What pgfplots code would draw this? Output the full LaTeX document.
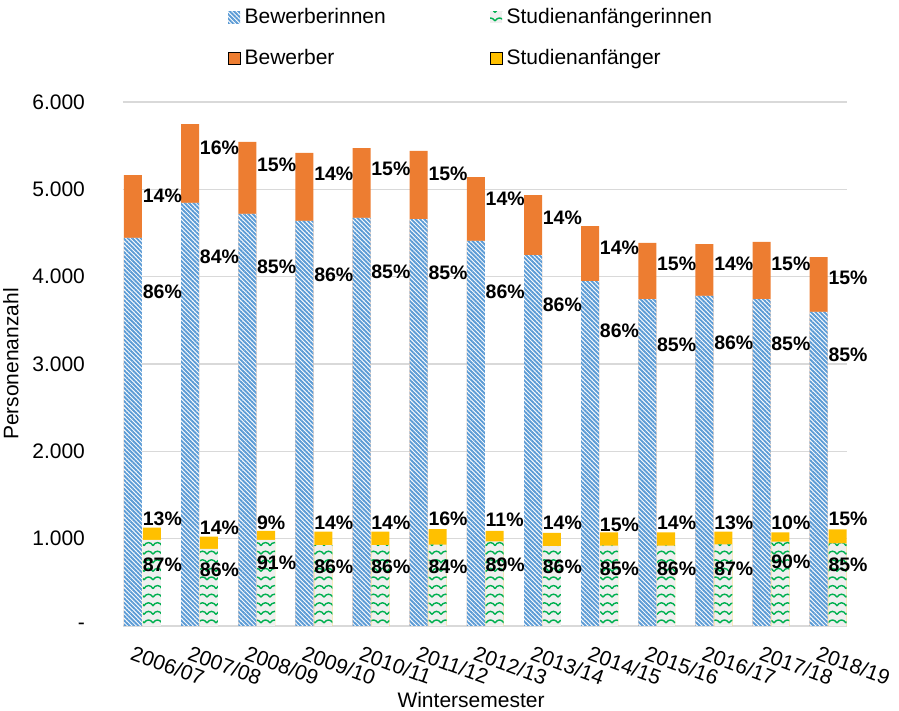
\documentclass[border=0pt]{standalone}
\usepackage{fontspec}
\setmainfont{Liberation Sans}
\usepackage{pgfplots}
\usepackage{pgfplotstable}
\pgfplotsset{compat=1.18}
\usetikzlibrary{patterns,patterns.meta}

\definecolor{cblue}{HTML}{5B9BD5}
\definecolor{corange}{HTML}{ED7D31}
\definecolor{cyellow}{HTML}{FFC000}
\definecolor{cgreen}{HTML}{00B050}
\definecolor{cbg}{HTML}{EFEFEF}
\definecolor{cgrid}{HTML}{D9D9D9}

% wave pattern for the female first-year students
\pgfdeclarepatternformonly{waves}{\pgfqpoint{-0.5pt}{-0.5pt}}{\pgfqpoint{5pt}{4.8pt}}{\pgfqpoint{4.5pt}{4.3pt}}{
  \pgfsetlinewidth{0.7pt}
  \pgfpathmoveto{\pgfqpoint{0pt}{1pt}}
  \pgfpathcurveto{\pgfqpoint{1.2pt}{3pt}}{\pgfqpoint{3.3pt}{3pt}}{\pgfqpoint{4.5pt}{1pt}}
  \pgfusepath{stroke}
}

\pgfplotsset{
  sq/.style={legend image code/.code={\path[##1] (0pt,-3pt) rectangle (6pt,3pt);}},
  bluebar/.style={fill=white, draw=none, postaction={pattern={Lines[angle=-45,distance=1.55pt,line width=0.95pt]}, pattern color=cblue}},
  greenbar/.style={fill=cbg, draw=none, postaction={pattern=waves, pattern color=cgreen}},
  lab/.style={sharp plot, draw=none, mark=none, forget plot,
    nodes near coords={\pgfplotspointmeta\%}, point meta=explicit symbolic,
    every node near coord/.append style={anchor=west, inner sep=0.5pt, xshift=-6pt, text=black,
      font=\fontsize{9.75}{11}\selectfont\bfseries}},
}

% x: category, bw/btot: Bewerberinnen / all applicants, sw/stot: Studienanfaengerinnen / all
% yb,yo,yg,yy: label heights; pb,po,pg,py: label percentages
\pgfplotstableread{
x  bw   btot sw  stot yb   yo   yg  yy   pb po pg py
0  4443 5164 985 1126 3825 4924 698 1225 86 14 87 13
1  4844 5748 882 1023 4225 5473 641 1122 84 16 86 14
2  4718 5542 985 1088 4111 5279 721 1179 85 15 91 9
3  4638 5416 927 1080 4019 5176 676 1179 86 14 86 14
4  4672 5473 927 1080 4053 5233 676 1179 85 15 86 14
5  4660 5439 932 1110 4042 5176 676 1225 85 15 84 16
6  4409 5141 968 1088 3825 4889 698 1213 86 14 89 11
7  4248 4935 916 1065 3676 4672 676 1179 86 14 86 14
8  3950 4580 920 1072 3378 4328 653 1156 86 14 85 15
9  3744 4386 920 1072 3218 4145 653 1179 85 15 86 14
10 3779 4374 936 1080 3241 4145 653 1179 86 14 87 13
11 3744 4397 966 1072 3229 4145 733 1179 85 15 90 10
12 3596 4225 947 1107 3103 3985 698 1225 85 15 85 15
}\data

\begin{document}
\begin{tikzpicture}
\path[use as bounding box] (-61.5pt,-42.5pt) rectangle (388pt,313pt);
\begin{axis}[
    at={(0pt,0pt)}, anchor=south west,
    scale only axis,
    width=362pt, height=262pt,
    ybar, bar width=0.315,
    xmin=-0.34, xmax=12.33,
    ymin=0, ymax=6000,
    clip=false,
    xtick={0,...,12},
    xticklabels={2006/07,2007/08,2008/09,2009/10,2010/11,2011/12,2012/13,2013/14,2014/15,2015/16,2016/17,2017/18,2018/19},
    ytick={0,1000,...,6000},
    yticklabels={{-\hspace{3.5pt}},1.000,2.000,3.000,4.000,5.000,6.000},
    ticklabel style={font=\fontsize{10.5}{12}\selectfont},
    yticklabel style={xshift=-15.5pt},
    xticklabel style={xshift=-6pt, yshift=-5pt, rotate=-20, anchor=north west},
    major tick length=0pt,
    ymajorgrids,
    grid style={draw=cgrid, line width=0.75pt},
    axis x line*=bottom, axis y line*=left,
    x axis line style={draw=cgrid, line width=1pt, -},
    y axis line style={draw=none},
    xlabel={Wintersemester},
    ylabel={Personenanzahl},
    label style={font=\fontsize{10.5}{12}\selectfont},
    xlabel style={at={(axis description cs:0.4807,0)}, anchor=center, yshift=-37pt},
    legend columns=2,
    legend cell align=left,
    legend style={draw=none, fill=none, at={(0.482,1.195)}, anchor=north,
      font=\fontsize{10.5}{12}\selectfont, row sep=7.5pt,
      /tikz/every even column/.append style={column sep=50pt}},
]
\addlegendimage{sq, bluebar}
\addlegendentry{Bewerberinnen}
\addlegendimage{sq, greenbar}
\addlegendentry{Studienanfängerinnen}
\addlegendimage{sq, fill=corange}
\addlegendentry{Bewerber}
\addlegendimage{sq, fill=cyellow}
\addlegendentry{Studienanfänger}

% applicants: total (orange), women drawn over it
\addplot[forget plot, fill=corange, draw=none, bar shift=-0.165] table[x=x, y=btot] {\data};
\addplot[forget plot, bluebar, bar shift=-0.165] table[x=x, y=bw] {\data};
% first-year students: total (yellow), women drawn over it
\addplot[forget plot, fill=cyellow, draw=none, bar shift=0.165] table[x=x, y=stot] {\data};
\addplot[forget plot, greenbar, bar shift=0.165] table[x=x, y=sw] {\data};

% percentage labels
\addplot[lab] table[x=x, y=yo, meta=po] {\data};
\addplot[lab] table[x=x, y=yb, meta=pb] {\data};
\addplot[lab] table[x=x, y=yy, meta=py] {\data};
\addplot[lab] table[x=x, y=yg, meta=pg] {\data};
\end{axis}
\end{tikzpicture}
\end{document}
